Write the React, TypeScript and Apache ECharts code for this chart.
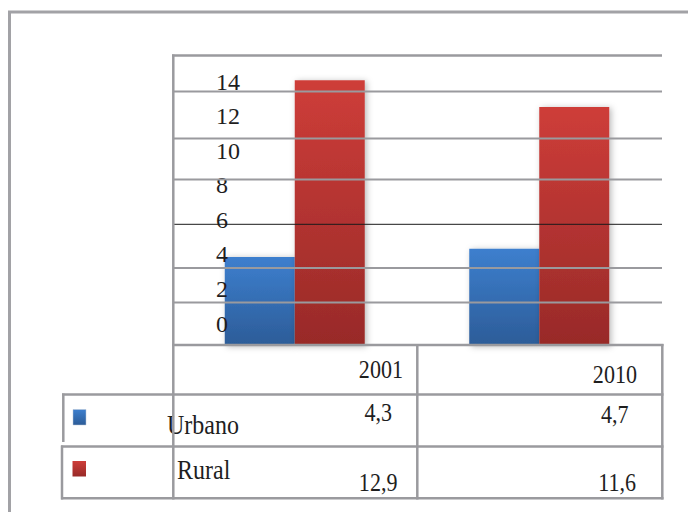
import React, { useEffect, useRef } from "react";
import * as echarts from "echarts";

const categories = ["2001", "2010"];
const seriesNames = ["Urbano", "Rural"];
const urbano = [4.3, 4.7];
const rural = [12.9, 11.6];
const yTickMin = 0;
const yTickMax = 14;
const yTickStep = 2;

const FONT = "'Liberation Serif', 'DejaVu Serif', serif";
const GRAY = "#9a9a9e";
const TXT = "#1e1e1e";

const fmt = (v: number) => v.toFixed(1).replace(".", ",");

const blueGrad = () =>
  new echarts.graphic.LinearGradient(0, 0, 0, 1, [
    { offset: 0, color: "#3d7fce" },
    { offset: 1, color: "#2c5c98" },
  ]);
const redGrad = () =>
  new echarts.graphic.LinearGradient(0, 0, 0, 1, [
    { offset: 0, color: "#ce3d39" },
    { offset: 1, color: "#982a28" },
  ]);

export default function App() {
  const ref = useRef<HTMLDivElement>(null);
  useEffect(() => {
    if (!ref.current) return;
    const chart = echarts.init(ref.current, undefined, { renderer: "svg" });

    const line = (x1: number, y1: number, x2: number, y2: number, w = 2.5, color = GRAY) => ({
      type: "line",
      z: 100,
      shape: { x1, y1, x2, y2 },
      style: { stroke: color, lineWidth: w },
      silent: true,
    });
    const text = (t: string, x: number, y: number, align: string, size = 23) => ({
      type: "text",
      z: 90,
      x,
      y,
      scaleY: 1.1,
      scaleX: 0.96,
      style: {
        text: t,
        font: `${size}px ${FONT}`,
        fill: TXT,
        align,
        verticalAlign: "middle",
      },
      silent: true,
    });

    const headerPos = [
      { x: 403, y: 369.5 },
      { x: 637, y: 374 },
    ];
    const urbanoPos = [
      { x: 392, y: 412.5 },
      { x: 628.5, y: 414.5 },
    ];
    const ruralPos = [
      { x: 397.5, y: 482 },
      { x: 636, y: 482 },
    ];

    const graphics: any[] = [
      {
        type: "polyline",
        z: 100,
        shape: { points: [[9.5, 512], [9.5, 12], [690, 12]] },
        style: { stroke: "#a2a2a6", lineWidth: 3, fill: "none" },
        silent: true,
      },
      line(172, 55.5, 662, 55.5),
      line(173, 91.5, 662, 91.5, 2),
      line(173, 138.5, 662, 138.5, 2),
      line(173, 179.5, 662, 179.5, 2),
      line(173, 268, 662, 268, 2),
      line(173, 302.5, 662, 302.5, 2),
      line(173, 224.3, 662, 224.3, 1, "#1a1a1a"),
      line(173.3, 54.5, 173.3, 499.5),
      line(417.3, 344, 417.3, 499.5),
      line(662.3, 344, 662.3, 499.5),
      line(63.3, 393.5, 63.3, 442),
      line(62, 445.5, 62, 499.5),
      line(172, 345, 663.5, 345),
      line(62, 394.5, 663.5, 394.5),
      line(61, 446.5, 663.5, 446.5),
      line(61, 498.3, 663.5, 498.3),
      {
        type: "rect",
        z: 105,
        shape: { x: 73, y: 409.5, width: 13, height: 15.5 },
        style: { fill: blueGrad(), stroke: "#b8c4d4", lineWidth: 0.5 },
        silent: true,
      },
      {
        type: "rect",
        z: 105,
        shape: { x: 72.5, y: 461, width: 13.5, height: 15.5 },
        style: { fill: redGrad() },
        silent: true,
      },
      text(seriesNames[0], 167, 425, "left", 25),
      text(seriesNames[1], 177, 470, "left", 25),
    ];
    categories.forEach((c, i) => graphics.push(text(c, headerPos[i].x, headerPos[i].y, "right")));
    urbano.forEach((v, i) => graphics.push(text(fmt(v), urbanoPos[i].x, urbanoPos[i].y, "right")));
    rural.forEach((v, i) => graphics.push(text(fmt(v), ruralPos[i].x, ruralPos[i].y, "right")));

    const barShadow = {
      shadowBlur: 6,
      shadowColor: "rgba(0,0,0,0.28)",
      shadowOffsetX: 2,
      shadowOffsetY: 1,
    };

    chart.setOption({
      animation: false,
      backgroundColor: "#ffffff",
      grid: [
        { left: 172.5, top: 55.5, width: 489, height: 290 },
        { left: 216, top: 81.5, width: 10, height: 242 },
      ],
      xAxis: [
        { type: "category", data: categories, gridIndex: 0, show: false },
        { type: "value", gridIndex: 1, show: false },
      ],
      yAxis: [
        { type: "value", gridIndex: 0, min: 0, max: 14.1, show: false },
        {
          type: "value",
          gridIndex: 1,
          min: yTickMin,
          max: yTickMax,
          interval: yTickStep,
          z: 20,
          axisLine: { show: false },
          axisTick: { show: false },
          splitLine: { show: false },
          axisLabel: {
            inside: true,
            margin: 0,
            align: "left",
            fontFamily: FONT,
            fontSize: 24,
            color: TXT,
          },
        },
      ],
      series: [
        {
          name: seriesNames[0],
          type: "bar",
          data: urbano,
          barWidth: 70,
          barGap: "0%",
          itemStyle: { color: blueGrad(), ...barShadow },
        },
        {
          name: seriesNames[1],
          type: "bar",
          data: rural,
          barWidth: 70,
          barGap: "0%",
          itemStyle: { color: redGrad(), ...barShadow },
        },
      ],
      graphic: graphics,
    });
    return () => chart.dispose();
  }, []);
  return (
    <div
      ref={ref}
      style={{ position: "fixed", left: 0, top: 0, width: 688, height: 512, background: "#fff" }}
    />
  );
}
